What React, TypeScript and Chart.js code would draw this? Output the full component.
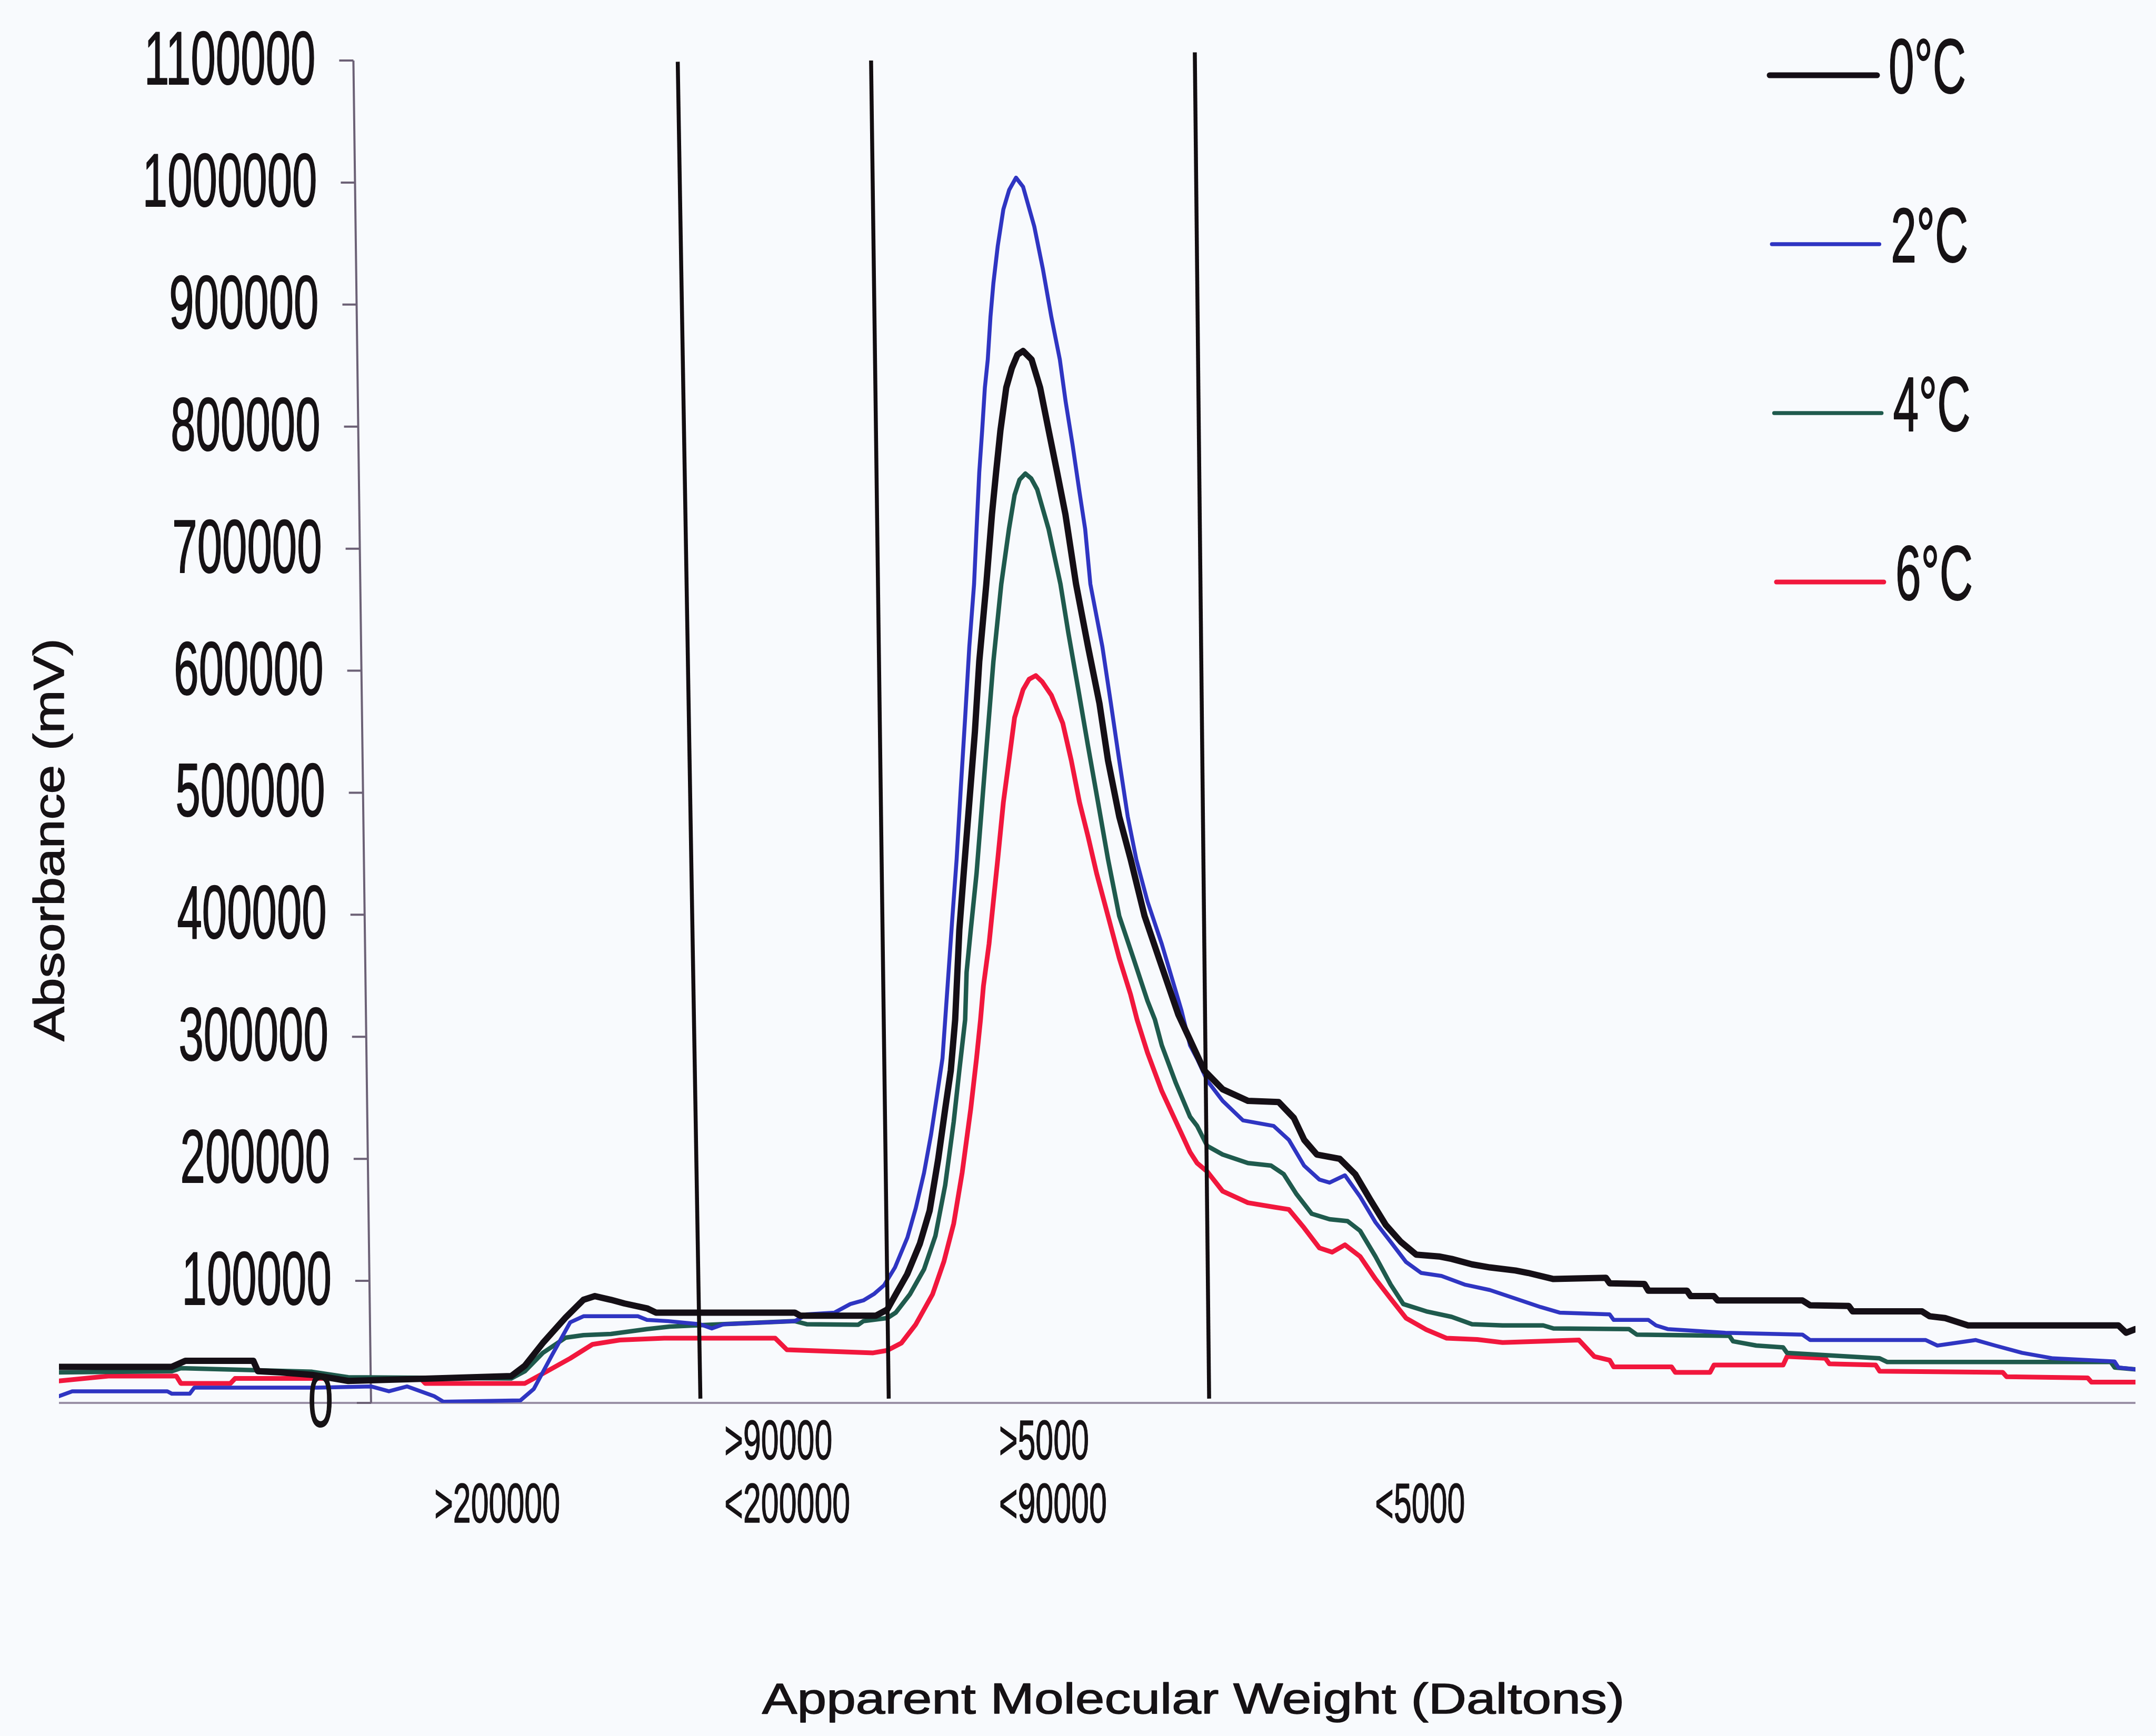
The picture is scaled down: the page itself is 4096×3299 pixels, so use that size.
import React, { useEffect, useRef } from "react";
import { Chart, registerables } from "chart.js";

Chart.register(...registerables);

// Size-exclusion traces: [elution time (arbitrary units), absorbance (mV)]
const TRACE_0C: [number, number][] = [
  [0, 29500], [5.43, 29500], [6.09, 34500], [9.36, 34500], [9.58, 26000], [10.66, 25000],
  [12.19, 23000], [13.93, 18000], [17.02, 19500], [21.78, 22000], [22.44, 30500], [23.3, 49000],
  [24.4, 70000], [25.26, 84500], [25.81, 87500], [26.58, 84500], [27.23, 81500], [28.32, 77500],
  [28.75, 74000], [35.43, 74000], [35.7, 71500], [39.34, 71500], [39.89, 76500], [40.3, 89000],
  [40.85, 105500], [41.46, 130500], [41.93, 157500], [42.34, 199500], [42.68, 241000], [42.95, 272500],
  [43.16, 314000], [43.36, 387500], [43.57, 434000], [43.84, 492000], [44.11, 550000], [44.32, 607500],
  [44.66, 671000], [44.93, 728000], [45.13, 762500], [45.34, 797000], [45.62, 832000], [45.89, 848000],
  [46.16, 859000], [46.43, 862000], [46.84, 855000], [47.25, 832000], [47.66, 797000], [48.07, 762500],
  [48.47, 728000], [48.98, 671000], [49.56, 619500], [50.11, 573000], [50.52, 526500], [51.06, 480500],
  [51.61, 445500], [52.28, 399000], [52.97, 364500], [53.91, 318000], [54.47, 297500], [55.15, 272500],
  [56.04, 257000], [57.26, 247500], [58.74, 246500], [59.47, 233500], [59.97, 215500], [60.58, 203500],
  [61.68, 200000], [62.42, 187500], [63.15, 166500], [63.89, 146000], [64.62, 132000], [65.36, 121500],
  [66.46, 120000], [67.07, 118000], [68.05, 113500], [68.91, 111000], [70.14, 108500], [70.75, 106500],
  [71.97, 101500], [74.5, 102500], [74.68, 98000], [76.35, 97500], [76.54, 92000], [78.4, 92000],
  [78.58, 87500], [79.7, 87500], [79.88, 84000], [83.96, 84000], [84.33, 80000], [86.19, 79500],
  [86.38, 75000], [89.72, 75000], [90.09, 71000], [90.83, 69500], [91.94, 63500], [99.18, 63500],
  [99.55, 57500], [100, 60500],
];

const TRACE_2C: [number, number][] = [
  [0, 5500], [0.64, 9500], [5.22, 9500], [5.44, 7500], [6.3, 7500], [6.52, 12500], [12.41, 12500],
  [15.03, 13500], [15.89, 9500], [16.77, 13500], [18.07, 5500], [18.51, 1000], [22.22, 2000],
  [22.87, 11500], [23.74, 39000], [24.62, 66000], [25.26, 71000], [27.88, 71000], [28.32, 68000],
  [29.34, 67000], [30.87, 64500], [31.44, 61000], [32.01, 64500], [35.44, 67000], [36.01, 72500],
  [37.35, 74000], [38.11, 81000], [38.74, 84000], [39.27, 89500], [39.74, 96500], [40.26, 111000],
  [40.86, 135500], [41.26, 159500], [41.66, 188500], [42.0, 220000], [42.28, 251500], [42.55, 282500],
  [42.68, 314000], [43.03, 399000], [43.23, 445500], [43.43, 503500], [43.64, 561500], [43.84, 619500],
  [44.07, 671000], [44.19, 716000], [44.32, 762500], [44.46, 797000], [44.59, 832000], [44.73, 855000],
  [44.86, 890000], [45.0, 917500], [45.21, 948000], [45.48, 978000], [45.76, 994000], [46.09, 1004000],
  [46.43, 996500], [46.97, 964000], [47.38, 929500], [47.79, 890000], [48.2, 855000], [48.48, 820500],
  [48.81, 785500], [49.15, 746000], [49.42, 716000], [49.67, 671000], [50.25, 619500], [50.66, 573000],
  [51.06, 526500], [51.47, 480500], [51.88, 445500], [52.42, 411000], [53.11, 376000], [54.06, 321500],
  [54.47, 293000], [54.81, 282000], [55.3, 264000], [56.04, 247500], [57.02, 231500], [58.49, 227000],
  [59.23, 215500], [59.96, 194500], [60.7, 183000], [61.19, 180500], [61.93, 186500], [62.66, 169000],
  [63.4, 148000], [64.13, 132000], [64.87, 115500], [65.6, 106500], [66.58, 104000], [67.69, 97000],
  [68.91, 92500], [70.14, 85500], [71.36, 78500], [72.27, 74000], [74.68, 72500], [74.87, 68000],
  [76.54, 68000], [76.91, 63500], [77.47, 60500], [80.25, 57500], [83.96, 56000], [84.33, 51500],
  [89.9, 51500], [90.46, 47000], [92.31, 51500], [93.24, 47000], [94.54, 41000], [96.03, 36500],
  [98.99, 34000], [99.18, 29000], [100, 27500],
];

const TRACE_4C: [number, number][] = [
  [0, 25000], [5.44, 26000], [5.87, 28500], [12.19, 25500], [13.93, 21000], [21.78, 20000],
  [22.44, 26000], [23.3, 41000], [24.4, 53500], [25.26, 55500], [26.58, 56500], [28.32, 60500],
  [29.41, 62500], [31.32, 64000], [35.44, 67000], [36.01, 64500], [38.49, 64000], [38.74, 67000],
  [39.89, 69500], [40.3, 74000], [40.98, 89000], [41.66, 109500], [42.21, 137000], [42.68, 178500],
  [43.09, 230500], [43.36, 272500], [43.64, 314000], [43.71, 353000], [43.91, 387500], [44.19, 434000],
  [44.46, 492000], [44.73, 550000], [45.0, 607500], [45.38, 671000], [45.75, 716000], [46.02, 744000],
  [46.26, 756500], [46.54, 761500], [46.82, 757500], [47.11, 748500], [47.66, 716000], [48.23, 671000],
  [48.61, 631000], [49.09, 584500], [49.56, 538000], [50.04, 492000], [50.52, 445500], [51.06, 399000],
  [51.74, 364500], [52.42, 329500], [52.78, 314000], [53.11, 293000], [53.79, 262000], [54.47, 234500],
  [54.81, 227000], [55.3, 210500], [56.04, 203500], [57.26, 196500], [58.37, 194500], [58.98, 187500],
  [59.6, 171000], [60.33, 155000], [61.19, 150500], [62.05, 149000], [62.66, 141000], [63.4, 120000],
  [64.13, 97000], [64.74, 81000], [65.85, 75000], [67.07, 70500], [68.05, 64500], [69.52, 63500],
  [71.48, 63500], [71.97, 61000], [75.61, 60500], [75.98, 56000], [80.44, 55000], [80.62, 50500],
  [81.74, 47000], [83.03, 45500], [83.22, 41000], [87.68, 36500], [88.05, 33500], [98.81, 33500],
  [99.0, 29000], [100, 27500],
];

const TRACE_6C: [number, number][] = [
  [0, 18000], [2.38, 22000], [5.65, 22000], [5.87, 16000], [8.26, 16000], [8.48, 20000], [17.42, 20000],
  [17.64, 16000], [22.44, 16000], [23.3, 24000], [24.62, 36500], [25.7, 48000], [27.01, 51500],
  [29.15, 53000], [34.49, 53000], [35.06, 43500], [39.21, 41000], [39.89, 43000], [40.57, 49000],
  [41.25, 64000], [42.07, 89000], [42.62, 116000], [43.09, 147000], [43.5, 189000], [43.91, 241000],
  [44.19, 282500], [44.38, 314000], [44.52, 341500], [44.79, 376000], [45.0, 411000], [45.21, 445500],
  [45.48, 492000], [45.75, 526500], [46.02, 561500], [46.43, 584500], [46.72, 593000], [47.04, 596000],
  [47.35, 591000], [47.79, 580000], [48.34, 557000], [48.75, 526500], [49.15, 492000], [49.56, 464000],
  [49.97, 434000], [50.52, 399000], [51.06, 364500], [51.61, 334500], [51.92, 314000], [52.42, 287000],
  [53.11, 255500], [53.79, 230500], [54.47, 205500], [54.81, 196500], [55.3, 189500], [56.04, 173500],
  [57.26, 164000], [58.49, 160500], [59.23, 158500], [59.96, 143500], [60.7, 127000], [61.31, 123500],
  [61.93, 129500], [62.66, 120000], [63.4, 101500], [64.13, 85500], [64.87, 69500], [65.85, 60000],
  [66.83, 53000], [68.3, 52000], [69.52, 49500], [73.2, 51500], [73.94, 38000], [74.68, 35000],
  [74.87, 29500], [77.66, 29500], [77.84, 25000], [79.51, 25000], [79.7, 31000], [83.03, 31000],
  [83.22, 38000], [85.07, 36500], [85.26, 32000], [87.49, 31000], [87.68, 26000], [93.61, 25000],
  [93.79, 21500], [97.7, 20500], [97.88, 17000], [100, 17000],
];

const SERIES = [TRACE_0C, TRACE_2C, TRACE_4C, TRACE_6C];
const SERIES_LABELS = ["0°C", "2°C", "4°C", "6°C"];
const SERIES_COLORS = ["#150f16", "#2f35c2", "#1f5a4d", "#f1173d"];
const SERIES_WIDTHS = [12, 7.5, 8.5, 9];
const LEGEND_WIDTHS = [11, 7.5, 7.5, 9];

const Y_TICKS = [0, 100000, 200000, 300000, 400000, 500000, 600000, 700000, 800000, 900000, 1000000, 1100000];
const X_RANGE = [0, 100];

// Fraction cut-offs, drawn slightly slanted: [time at top, mV at top, time at bottom, mV at bottom]
const CUTOFFS: [number, number, number, number][] = [
  [29.8, 1099000, 30.89, 3500],
  [39.11, 1100000, 39.96, 3500],
  [54.7, 1106700, 55.39, 3500],
];

// Molecular-weight range captions: [text, time of left edge, row]
const MW_LABELS: [string, number, number][] = [
  [">200000", 18.08, 1],
  [">90000", 32.05, 0],
  ["<200000", 32.05, 1],
  [">5000", 45.27, 0],
  ["<90000", 45.27, 1],
  ["<5000", 63.38, 1],
];

// Time at which the value axis is drawn, at its top and at its bottom
const Y_AXIS_AT_TOP = 14.18;
const Y_AXIS_AT_BOTTOM = 15.03;

const X_TITLE = "Apparent Molecular Weight (Daltons)";
const Y_TITLE = "Absorbance (mV)";

const W = 4096;
const H = 3299;
const BACKGROUND = "#f8fafd";
const INK = "#161215";
const FONT = '"Liberation Sans", Arial, sans-serif';

function drawText(
  ctx: CanvasRenderingContext2D,
  text: string,
  x: number,
  y: number,
  size: number,
  scaleX: number,
  align: CanvasTextAlign,
  weight: number,
  rotation = 0
) {
  ctx.save();
  ctx.translate(x, y);
  if (rotation) ctx.rotate(rotation);
  ctx.scale(scaleX, 1);
  ctx.font = `${size}px ${FONT}`;
  ctx.textAlign = align;
  ctx.textBaseline = "alphabetic";
  ctx.fillStyle = INK;
  ctx.fillText(text, 0, 0);
  if (weight > 0) {
    ctx.strokeStyle = INK;
    ctx.lineWidth = weight;
    ctx.lineJoin = "round";
    ctx.strokeText(text, 0, 0);
  }
  ctx.restore();
}

const decorations = {
  id: "decorations",
  beforeDraw(chart: any) {
    const { ctx } = chart;
    ctx.save();
    ctx.fillStyle = BACKGROUND;
    ctx.fillRect(0, 0, chart.width, chart.height);
    ctx.restore();
  },
  beforeDatasetsDraw(chart: any) {
    const { ctx } = chart;
    const xs = chart.scales.x;
    const ys = chart.scales.y;
    const yMax = Y_TICKS[Y_TICKS.length - 1];
    const axisX = (v: number) =>
      xs.getPixelForValue(Y_AXIS_AT_BOTTOM + ((Y_AXIS_AT_TOP - Y_AXIS_AT_BOTTOM) * v) / yMax);

    ctx.save();
    // time axis along zero
    const y0 = ys.getPixelForValue(0);
    ctx.strokeStyle = "#9a90a6";
    ctx.lineWidth = 4;
    ctx.beginPath();
    ctx.moveTo(xs.getPixelForValue(X_RANGE[0]), y0);
    ctx.lineTo(xs.getPixelForValue(X_RANGE[1]), y0);
    ctx.stroke();

    // value axis with outward ticks
    ctx.strokeStyle = "#6c6176";
    ctx.lineWidth = 4;
    ctx.beginPath();
    ctx.moveTo(axisX(yMax), ys.getPixelForValue(yMax));
    ctx.lineTo(axisX(0), y0);
    ctx.stroke();
    ctx.beginPath();
    for (const v of Y_TICKS) {
      const py = ys.getPixelForValue(v);
      const ax = axisX(v);
      ctx.moveTo(ax - 27, py);
      ctx.lineTo(ax, py);
    }
    ctx.stroke();
    ctx.restore();
  },
  afterDatasetsDraw(chart: any) {
    const { ctx } = chart;
    const xs = chart.scales.x;
    const ys = chart.scales.y;
    const yMax = Y_TICKS[Y_TICKS.length - 1];
    const axisX = (v: number) =>
      xs.getPixelForValue(Y_AXIS_AT_BOTTOM + ((Y_AXIS_AT_TOP - Y_AXIS_AT_BOTTOM) * v) / yMax);

    // value tick labels
    for (const v of Y_TICKS) {
      const py = ys.getPixelForValue(v);
      drawText(ctx, String(v), axisX(v) - 72, py + 45, 142, 0.6, "right", 2);
    }

    // molecular-weight captions below the time axis
    const y0 = ys.getPixelForValue(0);
    for (const [text, t, row] of MW_LABELS) {
      drawText(ctx, text, xs.getPixelForValue(t), y0 + (row === 0 ? 107 : 227), 105, 0.58, "left", 1.5);
    }

    // axis titles
    drawText(ctx, X_TITLE, 2267, 3256, 82, 1.22, "center", 1.5);
    drawText(ctx, Y_TITLE, 121, 1596, 82, 1.2, "center", 1.5, -Math.PI / 2);

    // legend
    SERIES_LABELS.forEach((label, i) => {
      const lx = 3362 + i * 4.3;
      const ly = 143 + i * 321;
      ctx.save();
      ctx.strokeStyle = SERIES_COLORS[i];
      ctx.lineWidth = LEGEND_WIDTHS[i];
      ctx.lineCap = "round";
      ctx.beginPath();
      ctx.moveTo(lx, ly);
      ctx.lineTo(lx + 204, ly);
      ctx.stroke();
      ctx.restore();
      drawText(ctx, label, lx + 226, ly + 34, 146, 0.6, "left", 2);
    });
  },
};

export default function App() {
  const canvasRef = useRef<HTMLCanvasElement | null>(null);

  useEffect(() => {
    const canvas = canvasRef.current;
    if (!canvas) return;

    const traceSets = SERIES.map((trace, i) => ({
      label: SERIES_LABELS[i],
      data: trace.map(([x, y]) => ({ x, y })),
      borderColor: SERIES_COLORS[i],
      backgroundColor: SERIES_COLORS[i],
      borderWidth: SERIES_WIDTHS[i],
      pointRadius: 0,
      tension: 0,
      borderJoinStyle: "round" as const,
      borderCapStyle: "round" as const,
      order: 1,
    }));

    const cutoffSets = CUTOFFS.map(([xt, yt, xb, yb], i) => ({
      label: `cutoff-${i}`,
      data: [
        { x: xt, y: yt },
        { x: xb, y: yb },
      ],
      borderColor: "#120d10",
      borderWidth: 7.5,
      pointRadius: 0,
      tension: 0,
      clip: false as const,
      order: 0,
    }));

    const chart = new Chart(canvas, {
      type: "line",
      data: { datasets: [...traceSets, ...cutoffSets] as any },
      options: {
        animation: false,
        responsive: false,
        devicePixelRatio: 1,
        parsing: false as any,
        layout: { padding: { left: 112, right: 39, top: 115, bottom: 633 } },
        scales: {
          x: { type: "linear", min: X_RANGE[0], max: X_RANGE[1], display: false },
          y: { type: "linear", min: Y_TICKS[0], max: Y_TICKS[Y_TICKS.length - 1], display: false },
        },
        plugins: {
          legend: { display: false },
          tooltip: { enabled: false },
        },
      },
      plugins: [decorations],
    });

    return () => chart.destroy();
  }, []);

  return (
    <div style={{ position: "fixed", left: 0, top: 0, width: W, height: H, background: BACKGROUND }}>
      <canvas ref={canvasRef} width={W} height={H} style={{ display: "block", width: W, height: H }} />
    </div>
  );
}
